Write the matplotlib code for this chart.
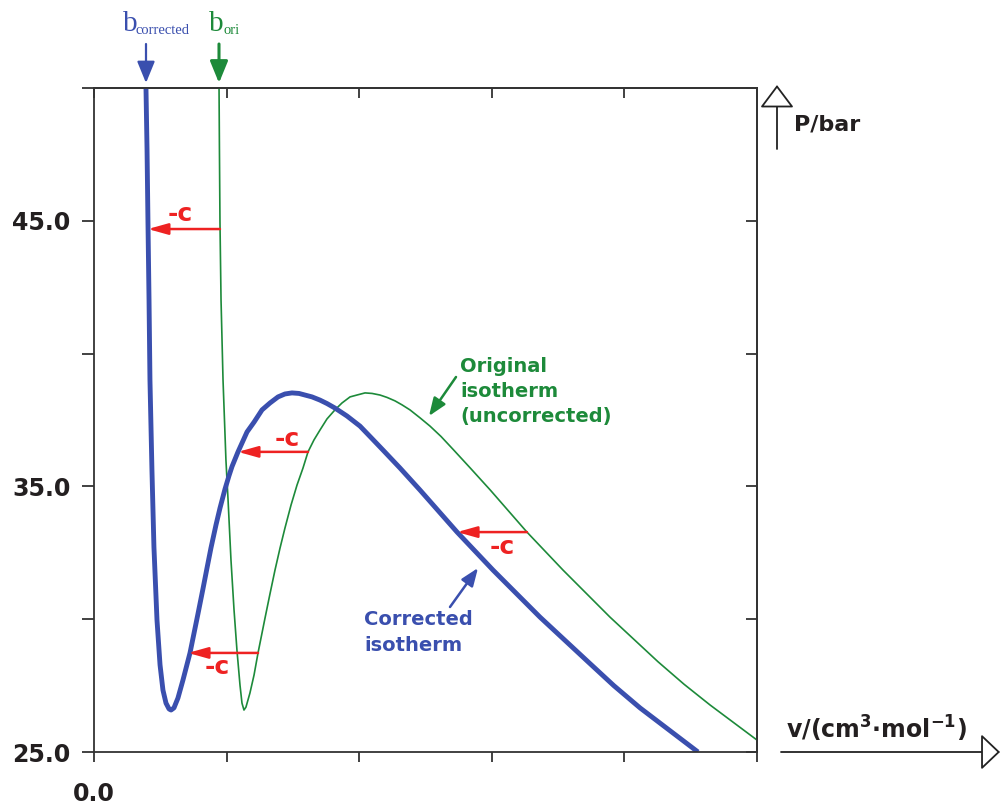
"""Isotherm volume translation: original vs corrected"""
import matplotlib
matplotlib.use('Agg')
import matplotlib.pyplot as plt
from matplotlib.patches import FancyArrowPatch

W, H = 1002, 809

# original isotherm (green)
v_ori = [0.943, 0.946, 0.950, 0.958, 0.973, 0.995, 1.011, 1.033, 1.056, 1.078,
         1.101, 1.116, 1.131, 1.146, 1.176, 1.207, 1.237, 1.290, 1.327, 1.365,
         1.403, 1.440, 1.486, 1.531, 1.576, 1.614, 1.659, 1.704, 1.757, 1.817,
         1.870, 1.931, 1.983, 2.044, 2.097, 2.157, 2.210, 2.270, 2.323, 2.383,
         2.459, 2.534, 2.617, 2.707, 2.838, 2.989, 3.265, 3.537, 3.891, 4.253,
         4.450, 4.646, 5.000]
p_ori = [50.00, 47.67, 44.95, 42.02, 39.01, 35.99, 34.49, 32.23, 30.35, 28.84,
         27.52, 26.84, 26.58, 26.69, 27.22, 27.90, 28.73, 30.05, 30.95, 31.85,
         32.68, 33.43, 34.30, 35.05, 35.69, 36.30, 36.75, 37.12, 37.54, 37.88,
         38.14, 38.37, 38.44, 38.52, 38.50, 38.44, 38.35, 38.22, 38.07, 37.88,
         37.58, 37.27, 36.88, 36.40, 35.69, 34.86, 33.28, 31.85, 30.08, 28.40,
         27.55, 26.77, 25.45]

# corrected isotherm (blue)
v_cor = [0.392, 0.400, 0.407, 0.415, 0.422, 0.437, 0.452, 0.475, 0.498, 0.520,
         0.543, 0.566, 0.581, 0.603, 0.633, 0.671, 0.724, 0.784, 0.822, 0.852,
         0.882, 0.920, 0.950, 0.988, 1.018, 1.041, 1.086, 1.154, 1.207, 1.267,
         1.327, 1.388, 1.440, 1.493, 1.546, 1.591, 1.644, 1.704, 1.757, 1.817,
         1.908, 2.006, 2.089, 2.179, 2.308, 2.459, 2.738, 3.009, 3.363, 3.725,
         3.920, 4.118, 4.555]
p_cor = [50.00, 47.67, 44.95, 42.02, 39.01, 35.62, 32.72, 29.97, 28.28, 27.33,
         26.84, 26.62, 26.58, 26.66, 27.03, 27.71, 28.73, 30.20, 31.15, 31.92,
         32.68, 33.55, 34.18, 34.90, 35.40, 35.75, 36.30, 37.05, 37.42, 37.88,
         38.14, 38.37, 38.48, 38.52, 38.50, 38.44, 38.37, 38.25, 38.12, 37.95,
         37.65, 37.27, 36.84, 36.37, 35.69, 34.86, 33.28, 31.85, 30.08, 28.40,
         27.50, 26.66, 25.00]

# "-c" shift arrows
shift_p = [44.69, 36.30, 33.28, 28.73]
shift_from = [0.950, 1.614, 3.265, 1.237]
shift_to = [0.407, 1.086, 2.738, 0.709]
shift_lbl_v = [0.649, 1.455, 3.077, 0.928]
shift_lbl_p = [45.25, 36.80, 32.70, 28.20]

y_ticks = [25, 30, 35, 40, 45, 50]
y_labels = ['25.0', '', '35.0', '', '45.0', '']
x_ticks = [0, 1, 2, 3, 4, 5]
x_labels = ['0.0', '', '', '', '', '']

blue = '#3a4fae'
green = '#1d8a3a'
red = '#ee2222'
ink = '#231f20'

plt.rcParams['font.family'] = ['DejaVu Sans']


def fx(px):
    return px / W


def fy(py):
    return 1 - py / H


fig = plt.figure(figsize=(W / 100, H / 100), dpi=100)
ax = fig.add_axes([fx(94), fy(752), (757 - 94) / W, (752 - 88) / H])

ax.plot(v_ori, p_ori, color=green, lw=1.2, solid_joinstyle='round')
ax.plot(v_cor, p_cor, color=blue, lw=3.5, solid_joinstyle='round', solid_capstyle='butt')
ax.set_xlim(0, 5)
ax.set_ylim(25, 50)

for s in ax.spines.values():
    s.set_color('#333333')
    s.set_linewidth(1.3)

ax.set_yticks(y_ticks)
ax.set_yticklabels(y_labels, fontsize=17, fontweight='bold', color=ink)
ax.set_xticks(x_ticks)
ax.set_xticklabels(x_labels, fontsize=17, fontweight='bold', color=ink)
ax.tick_params(axis='y', direction='out', length=9, width=1.3, color='#333333', pad=8)
ax.tick_params(axis='x', direction='out', length=7.5, width=1.3, color='#333333', pad=14)

sec_y = ax.secondary_yaxis('right')
sec_y.set_yticks(y_ticks)
sec_y.tick_params(direction='in', length=8, width=1.3, color='#333333', labelright=False)
sec_y.spines['right'].set_linewidth(1.3)
sec_y.spines['right'].set_color('#333333')
sec_x = ax.secondary_xaxis('top')
sec_x.set_xticks(x_ticks)
sec_x.tick_params(direction='in', length=7.5, width=1.3, color='#333333', labeltop=False)
sec_x.spines['top'].set_linewidth(1.3)
sec_x.spines['top'].set_color('#333333')

# -c arrows
for p, a, b, lv, lp in zip(shift_p, shift_from, shift_to, shift_lbl_v, shift_lbl_p):
    ax.annotate('', xy=(b, p), xytext=(a, p),
                arrowprops=dict(arrowstyle='-|>,head_length=1.0,head_width=0.28',
                                color=red, lw=1.8, shrinkA=0, shrinkB=0,
                                mutation_scale=12))
    ax.text(lv, lp, '-c', color=red, fontsize=18, fontweight='bold',
            ha='center', va='center')

# curve labels
for txt, py in zip(['Original', 'isotherm', '(uncorrected)'], [372, 397, 422]):
    fig.text(fx(460), fy(py), txt, color=green, fontsize=14, fontweight='bold',
             ha='left', va='baseline')
for txt, py in zip(['Corrected', 'isotherm'], [625, 651]):
    fig.text(fx(364), fy(py), txt, color=blue, fontsize=14, fontweight='bold',
             ha='left', va='baseline')

fig.patches.append(FancyArrowPatch((fx(456), fy(377)), (fx(429), fy(416)),
                                   transform=fig.transFigure, color=green, lw=1.8,
                                   arrowstyle='-|>,head_length=0.9,head_width=0.35',
                                   mutation_scale=12, shrinkA=0, shrinkB=0))
fig.patches.append(FancyArrowPatch((fx(450), fy(607)), (fx(478), fy(568)),
                                   transform=fig.transFigure, color=blue, lw=1.8,
                                   arrowstyle='-|>,head_length=0.9,head_width=0.35',
                                   mutation_scale=12, shrinkA=0, shrinkB=0))

# b markers at top
fig.text(fx(123), fy(31), 'b', color=blue, fontsize=21, family='Liberation Serif',
         ha='left', va='baseline')
fig.text(fx(136), fy(34), 'corrected', color=blue, fontsize=10.5,
         family='Liberation Serif', ha='left', va='baseline')
fig.text(fx(209), fy(31), 'b', color=green, fontsize=21, family='Liberation Serif',
         ha='left', va='baseline')
fig.text(fx(223), fy(34), 'ori', color=green, fontsize=10.5,
         family='Liberation Serif', ha='left', va='baseline')
fig.patches.append(FancyArrowPatch((fx(146), fy(44)), (fx(146), fy(83)),
                                   transform=fig.transFigure, color=blue, lw=1.6,
                                   arrowstyle='-|>,head_length=1.1,head_width=0.45',
                                   mutation_scale=12, shrinkA=0, shrinkB=0))
fig.patches.append(FancyArrowPatch((fx(219), fy(44)), (fx(219), fy(83)),
                                   transform=fig.transFigure, color=green, lw=2.2,
                                   arrowstyle='-|>,head_length=1.1,head_width=0.45',
                                   mutation_scale=12, shrinkA=0, shrinkB=0))

# axis label arrows
fig.patches.append(FancyArrowPatch((fx(777), fy(149)), (fx(777), fy(85)),
                                   transform=fig.transFigure, ec='#222222', fc='white',
                                   lw=1.3, arrowstyle='-|>,head_length=1.2,head_width=0.9',
                                   mutation_scale=12, shrinkA=0, shrinkB=0))
fig.text(fx(794), fy(130), 'P/bar', color=ink, fontsize=16, fontweight='bold',
         ha='left', va='baseline')
fig.patches.append(FancyArrowPatch((fx(781), fy(752)), (fx(1000), fy(752)),
                                   transform=fig.transFigure, ec='#222222', fc='white',
                                   lw=1.3, arrowstyle='-|>,head_length=1.0,head_width=0.95',
                                   mutation_scale=12, shrinkA=0, shrinkB=0))
fig.text(fx(786), fy(739), 'v/(cm$^{\\mathbf{3}}$$\\mathbf{\\cdot}$mol$^{\\mathbf{-1}}$)',
         color=ink, fontsize=17, fontweight='bold', ha='left', va='baseline')

fig.savefig('out.png', dpi=100)
